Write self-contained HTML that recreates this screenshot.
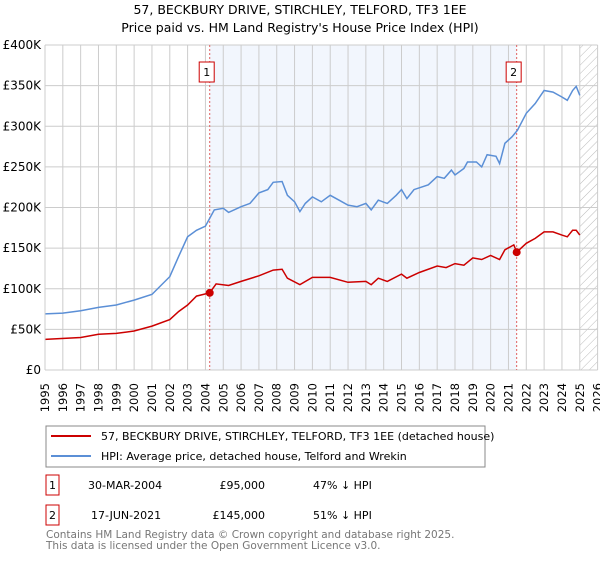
<!DOCTYPE html>
<html><head><meta charset="utf-8"><style>
body{margin:0;background:#fff;font-family:"DejaVu Sans","Liberation Sans",sans-serif;}
svg text{font-family:"DejaVu Sans","Liberation Sans",sans-serif;}
</style></head><body>
<svg id="chart" width="600" height="560" viewBox="0 0 600 560" xmlns="http://www.w3.org/2000/svg">
<defs><pattern id="hatch" patternUnits="userSpaceOnUse" width="6" height="6" patternTransform="rotate(45)"><line x1="0" y1="0" x2="0" y2="6" stroke="#bbb" stroke-width="1"/></pattern></defs>
<text x="300" y="14" text-anchor="middle" font-size="12.5">57, BECKBURY DRIVE, STIRCHLEY, TELFORD, TF3 1EE</text>
<text x="300" y="32" text-anchor="middle" font-size="12.5">Price paid vs. HM Land Registry's House Price Index (HPI)</text>
<g id="plot"></g>
<g>
<rect x="46" y="426" width="439" height="41" fill="#fff" stroke="#888"/>
<line x1="51" y1="436" x2="91" y2="436" stroke="#cc0000" stroke-width="2"/>
<text x="101" y="440" font-size="11">57, BECKBURY DRIVE, STIRCHLEY, TELFORD, TF3 1EE (detached house)</text>
<line x1="51" y1="456" x2="91" y2="456" stroke="#5b8fd6" stroke-width="2"/>
<text x="101" y="460" font-size="11">HPI: Average price, detached house, Telford and Wrekin</text>
</g>
<g font-size="11">
<rect x="46" y="475" width="13" height="20" fill="#fff" stroke="#cc0000"/><text x="52.5" y="489" text-anchor="middle">1</text>
<text x="88" y="489">30-MAR-2004</text><text x="265" y="489" text-anchor="end">£95,000</text><text x="313" y="489">47% ↓ HPI</text>
<rect x="46" y="505" width="13" height="20" fill="#fff" stroke="#cc0000"/><text x="52.5" y="519" text-anchor="middle">2</text>
<text x="91" y="519">17-JUN-2021</text><text x="265" y="519" text-anchor="end">£145,000</text><text x="313" y="519">51% ↓ HPI</text>
</g>
<text x="46" y="538" font-size="10.5" fill="#777">Contains HM Land Registry data © Crown copyright and database right 2025.</text>
<text x="46" y="549" font-size="10.5" fill="#777">This data is licensed under the Open Government Licence v3.0.</text>
</svg>
<script>
const yTicks=[0,50,100,150,200,250,300,350,400];
const yTickLabels=["£0","£50K","£100K","£150K","£200K","£250K","£300K","£350K","£400K"];
const years=[1995,1996,1997,1998,1999,2000,2001,2002,2003,2004,2005,2006,2007,2008,2009,2010,2011,2012,2013,2014,2015,2016,2017,2018,2019,2020,2021,2022,2023,2024,2025,2026];
const hpiX=[1995,1996,1997,1998,1999,2000,2001,2002,2002.5,2003,2003.5,2004,2004.5,2005,2005.3,2006,2006.5,2007,2007.5,2007.8,2008.3,2008.6,2009,2009.3,2009.6,2010,2010.5,2011,2011.5,2012,2012.5,2013,2013.3,2013.7,2014.2,2014.7,2015,2015.3,2015.7,2016.5,2017,2017.4,2017.8,2018,2018.5,2018.7,2019.2,2019.5,2019.8,2020.3,2020.5,2020.8,2021.2,2021.5,2022,2022.5,2023,2023.5,2024,2024.3,2024.6,2024.8,2025.0];
const hpiV=[69,70,73,77,80,86,93,115,140,164,172,177,197,199,194,201,205,218,222,231,232,215,207,195,205,213,207,215,209,203,201,205,197,209,205,215,222,211,222,228,238,236,246,240,248,256,256,250,265,263,254,279,287,295,316,328,344,342,336,332,344,349,338];
const paidX=[1995,1997,1998,1999,2000,2001,2002,2002.5,2003,2003.5,2004.24,2004.6,2005.3,2006,2007,2007.8,2008.3,2008.6,2009.3,2010,2011,2012,2013,2013.3,2013.7,2014.2,2015,2015.3,2016,2017,2017.5,2018,2018.5,2019,2019.5,2020,2020.5,2020.8,2021.3,2021.46,2022,2022.5,2023,2023.5,2024,2024.3,2024.6,2024.8,2025.0];
const paidV=[37.6,40,44,45,48,54,62,72,80,91,95,106,104,109,116,123,124,113,105,114,114,108,109,105,113,109,118,113,120,128,126,131,129,138,136,141,136,148,154,145,156,162,170,170,166,164,172,172,166];
const saleX=[2004.24,2021.46];
const saleV=[95,145];
const saleLabels=["1","2"];
const X0=45,X1=597.6,Y0=370,Y1=45;
const xs=y=>X0+(y-1995)/(2026-1995)*(X1-X0);
const ys=v=>Y0-v/400*(Y0-Y1);
const NS="http://www.w3.org/2000/svg";
const g=document.getElementById('plot');
function mk(t,a){const e=document.createElementNS(NS,t);for(const k in a)e.setAttribute(k,a[k]);g.appendChild(e);return e;}
let e;
e=mk('rect',{x:xs(saleX[0]),y:Y1,width:xs(saleX[1])-xs(saleX[0]),height:Y0-Y1,fill:'#eef3fc',opacity:0.75});


e=mk('rect',{x:xs(2025),y:Y1,width:X1-xs(2025),height:Y0-Y1,fill:'url(#hatch)'});


years.forEach(y=>{
 e=mk('line',{x1:xs(y),x2:xs(y),y1:Y1,y2:Y0,stroke:'#ccc','stroke-width':1});
 
 
 const tx=xs(y)+4,ty=383;
 e=mk('text',{x:tx,y:ty,'font-size':11.5,'text-anchor':'end',transform:`rotate(-90 ${tx} ${ty})`});
 e.textContent=y;
 
 
});
yTicks.forEach((v,i)=>{
 e=mk('line',{x1:X0,x2:X1,y1:ys(v),y2:ys(v),stroke:'#ccc','stroke-width':1});
 
 
 e=mk('text',{x:41,y:ys(v)+4,'font-size':12,'text-anchor':'end'});
 e.textContent=yTickLabels[i];
 
 
});
saleX.forEach((sx,i)=>{
 e=mk('line',{x1:xs(sx),x2:xs(sx),y1:Y1,y2:Y0,stroke:'#e06060','stroke-width':1,'stroke-dasharray':'2,2'});
 
 
});
const pts=(X,V)=>X.map((x,i)=>xs(x).toFixed(1)+','+ys(V[i]).toFixed(1)).join(' ');
e=mk('polyline',{points:pts(hpiX,hpiV),fill:'none',stroke:'#5b8fd6','stroke-width':1.5});


e=mk('polyline',{points:pts(paidX,paidV),fill:'none',stroke:'#cc0000','stroke-width':1.5});


saleX.forEach((sx,i)=>{
 e=mk('circle',{cx:xs(sx),cy:ys(saleV[i]),r:4,fill:'#cc0000'});
 
 
 const bx=xs(sx)-10.5;
 e=mk('rect',{x:bx,y:62,width:15,height:20,fill:'#fff',stroke:'#cc0000'});
 
 
 e=mk('text',{x:bx+7.5,y:76,'font-size':11,'text-anchor':'middle'});
 e.textContent=saleLabels[i];
 
 
});
e=mk('line',{x1:X0,x2:X0,y1:Y1,y2:Y0,stroke:'#ccc'});


</script>
</body></html>
